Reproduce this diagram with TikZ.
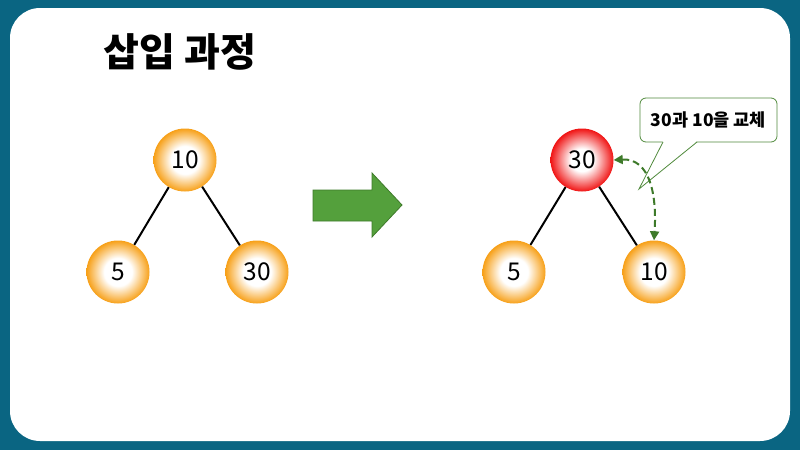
\documentclass[tikz,border=0pt]{standalone}
\usepackage{fontspec}
\setmainfont{Noto Sans CJK KR}
\usepackage{tikz}
\usetikzlibrary{arrows.meta}

\definecolor{frame}{RGB}{10,101,130}
\definecolor{ballorange}{RGB}{247,160,24}
\definecolor{ballred}{RGB}{240,20,20}
\definecolor{arrowgreen}{RGB}{84,160,60}
\definecolor{darkgreen}{RGB}{62,122,42}
\definecolor{callgreen}{RGB}{80,138,60}

\pgfdeclareradialshading{orangeball}{\pgfpoint{0bp}{0bp}}{%
  color(0bp)=(white); color(11bp)=(white); color(25bp)=(ballorange); color(50bp)=(ballorange)}
\pgfdeclareradialshading{redball}{\pgfpoint{0bp}{0bp}}{%
  color(0bp)=(white); color(9bp)=(white); color(25bp)=(ballred); color(50bp)=(ballred)}

\begin{document}
\begin{tikzpicture}[
    x=1pt, y=-1pt,
    ball/.style={circle, minimum size=63pt, inner sep=0pt,
                 shading=orangeball, font=\fontsize{24.5}{24.5}\selectfont},
    redb/.style={ball, shading=redball},
    edge/.style={line width=2pt, black},
    swap/.style={{Triangle[width=9pt,length=9pt]}-{Triangle[width=9pt,length=9pt]},
                 line width=2pt, darkgreen, dash pattern=on 7pt off 4pt}
]
  \useasboundingbox (0,0) rectangle (800,450);
  \fill[frame] (0,0) rectangle (800,450);
  \fill[white, rounded corners=30pt] (10,8) rectangle (790,441);

  \node[font=\fontsize{39}{39}\selectfont\bfseries] (title) at (180,52) {삽입 과정};

  % before
  \node[ball] (a10) at (185,160) {10};
  \node[ball] (a5)  at (118,272) {5};
  \node[ball] (a30) at (257,272) {30};
  \draw[edge] (a10) -- (a5);
  \draw[edge] (a10) -- (a30);

  % block arrow
  \draw[fill=arrowgreen, draw=darkgreen, line width=0.8pt]
    (313,190) -- (372,190) -- (372,173) -- (402,205) -- (372,237)
    -- (372,221) -- (313,221) -- cycle;

  % after
  \node[redb] (b30) at (582,160) {30};
  \node[ball] (b5)  at (514,272) {5};
  \node[ball] (b10) at (654,272) {10};
  \draw[edge] (b30) -- (b5);
  \draw[edge] (b30) -- (b10);

  % callout
  \node[draw=callgreen, line width=0.8pt, rounded corners=6pt, fill=white,
        minimum width=137pt, minimum height=44pt,
        font=\fontsize{17.5}{17.5}\selectfont\bfseries] (call) at (708.5,120) {30과 10을 교체};
  \coordinate (tip) at (639,189);
  \fill[white] (663,141) -- (tip) -- (697,141) -- cycle;
  \draw[callgreen, line width=0.8pt] (663,142) -- (tip) -- (697,142);

  \draw[swap] (b30.east) .. controls (650,158) and (657,195) .. (b10.north);
\end{tikzpicture}
\end{document}
